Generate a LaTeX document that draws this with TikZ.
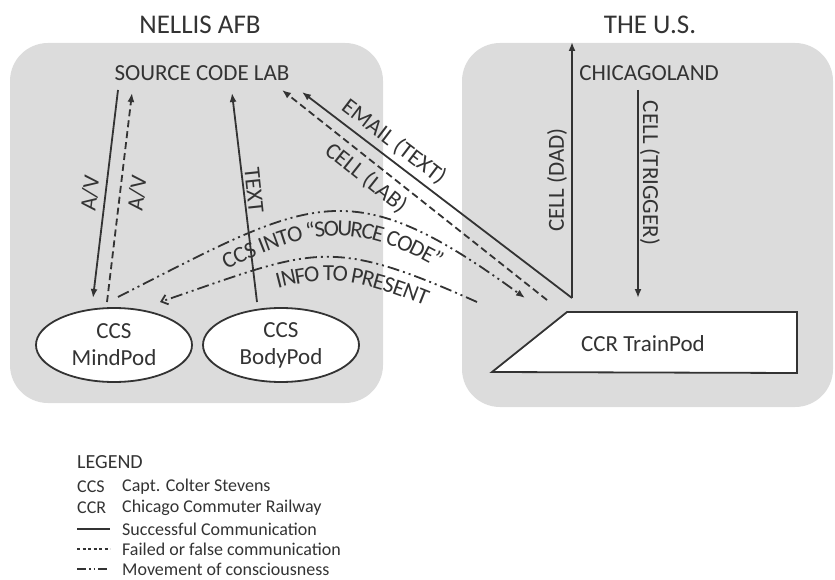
\documentclass[tikz,border=0pt]{standalone}
\usepackage{fontspec}
\setmainfont{Carlito}
\usetikzlibrary{arrows.meta,decorations.text,shapes.geometric}
\definecolor{boxgray}{HTML}{DCDCDC}
\definecolor{ink}{HTML}{333333}
\begin{document}
\begin{tikzpicture}[x=1pt,y=-1pt,
  lbl/.style={text=ink, font=\fontsize{23}{27}\selectfont, inner sep=0pt},
  ttl/.style={text=ink, font=\fontsize{27}{30}\selectfont, inner sep=0pt},
  legt/.style={text=ink, font=\fontsize{18}{20}\selectfont, inner sep=0pt, anchor=west},
  pod/.style={ellipse, draw=ink, line width=1.8pt, fill=white, minimum width=156pt, minimum height=74pt, align=center, text=ink, font=\fontsize{23}{27}\selectfont, inner sep=0pt},
  conn/.style={draw=ink, line width=1.8pt},
  okline/.style={conn},
  failline/.style={conn, dash pattern=on 7pt off 4pt},
  moveline/.style={conn, dash pattern=on 12pt off 4pt on 2pt off 4pt on 2pt off 4pt},
  tipf/.style={-{Latex[length=9pt,width=7pt]}},
  tipo/.style={-{Straight Barb[length=6pt,width=10pt]}},
]
\useasboundingbox (0,0) rectangle (835,580);
% regions
\fill[boxgray, rounded corners=38pt] (10,43) rectangle (383,403);
\fill[boxgray, rounded corners=38pt] (462,43) rectangle (833,407);
\node[ttl] (nellis) at (200,25) {NELLIS AFB};
\node[ttl] (us) at (650,25) {THE U.S.};
% nodes
\node[lbl] (lab) at (202,73) {SOURCE CODE LAB};
\node[lbl] (chicago) at (649,73) {CHICAGOLAND};
\node[pod] (mind) at (114,345) {CCS\\MindPod};
\node[pod] (body) at (281,345) {CCS\\BodyPod};
\draw[conn, fill=white] (492,372) -- (567,312) -- (797,312) -- (797,373) -- cycle;
\node[lbl] (train) at (643,344) {CCR TrainPod};
% end points
\coordinate (avsTop) at (118,90);  \coordinate (avsBot) at (93,298);
\coordinate (avdTop) at (132,93);  \coordinate (avdBot) at (107,302);
\coordinate (txTop) at (232,93);   \coordinate (txBot) at (257,302);
\coordinate (emTip) at (302,92);   \coordinate (hub) at (572,298);
\coordinate (clTip) at (282,90);   \coordinate (clTail) at (547,300);
\coordinate (dadTip) at (572,42);
\coordinate (trigTop) at (638,90); \coordinate (trigTip) at (638,298);
\coordinate (m1s) at (118,297);    \coordinate (m1e) at (525,298);
\coordinate (m2s) at (477,302);    \coordinate (m2e) at (160,302);
% connectors
\draw[okline, tipf] (avsTop) -- (avsBot);
\draw[failline, tipf] (avdBot) -- (avdTop);
\draw[okline, tipf] (txBot) -- (txTop);
\draw[okline, tipf] (hub) -- (emTip);
\draw[failline, tipf] (clTail) -- (clTip);
\draw[okline, tipf] (hub) -- (dadTip);
\draw[okline, tipf] (trigTop) -- (trigTip);
\draw[moveline, tipf] (m1s) .. controls (313,198) and (348,169) .. (m1e);
\draw[moveline, tipo] (m2s) .. controls (327,235) and (315,249) .. (m2e);
% labels
\node[lbl, rotate=83] (avsl) at (90,193) {A/V};
\node[lbl, rotate=83] (avdl) at (137,193) {A/V};
\node[lbl, rotate=-84] (txl) at (254,190) {TEXT};
\node[lbl, rotate=-37.3] (eml) at (394,142) {EMAIL (TEXT)};
\node[lbl, rotate=-38.4] (cll) at (366,178) {CELL (LAB)};
\node[lbl, rotate=90] (dadl) at (557,180) {CELL (DAD)};
\node[lbl, rotate=-90] (trigl) at (650,173) {CELL (TRIGGER)};
\path[decorate, decoration={text along path, text={|\fontsize{23}{27}\selectfont\color{ink}|CCS INTO “SOURCE CODE”}, text align={left indent=110pt}, raise=-24pt}] (m1s) .. controls (313,198) and (348,169) .. (m1e);
\path[decorate, decoration={text along path, text={|\fontsize{23}{27}\selectfont\color{ink}|INFO TO PRESENT}, text align={left indent=118pt}, raise=-24pt}] (m2e) .. controls (315,249) and (327,235) .. (m2s);
% legend
\node[legt, font=\fontsize{20}{22}\selectfont] (leg) at (77,462) {LEGEND};
\node[legt] (ccs) at (77,487) {CCS};
\node[legt] (ccsd) at (122,487) {Capt. Colter Stevens};
\node[legt] (ccr) at (77,508) {CCR};
\node[legt] (ccrd) at (122,508) {Chicago Commuter Railway};
\coordinate (l1a) at (77,529); \coordinate (l1b) at (110,529);
\coordinate (l2a) at (77,549); \coordinate (l2b) at (110,549);
\coordinate (l3a) at (77,569); \coordinate (l3b) at (110,569);
\draw[conn, line width=1.3pt] (l1a) -- (l1b);
\draw[conn, line width=1.3pt, dash pattern=on 3pt off 2.5pt] (l2a) -- (l2b);
\draw[conn, line width=1.3pt, dash pattern=on 9pt off 3pt on 1.5pt off 3pt on 1.5pt off 3pt] (l3a) -- (l3b);
\node[legt] (l1) at (122,529) {Successful Communication};
\node[legt] (l2) at (122,549) {Failed or false communication};
\node[legt] (l3) at (122,569) {Movement of consciousness};
\end{tikzpicture}
\end{document}
